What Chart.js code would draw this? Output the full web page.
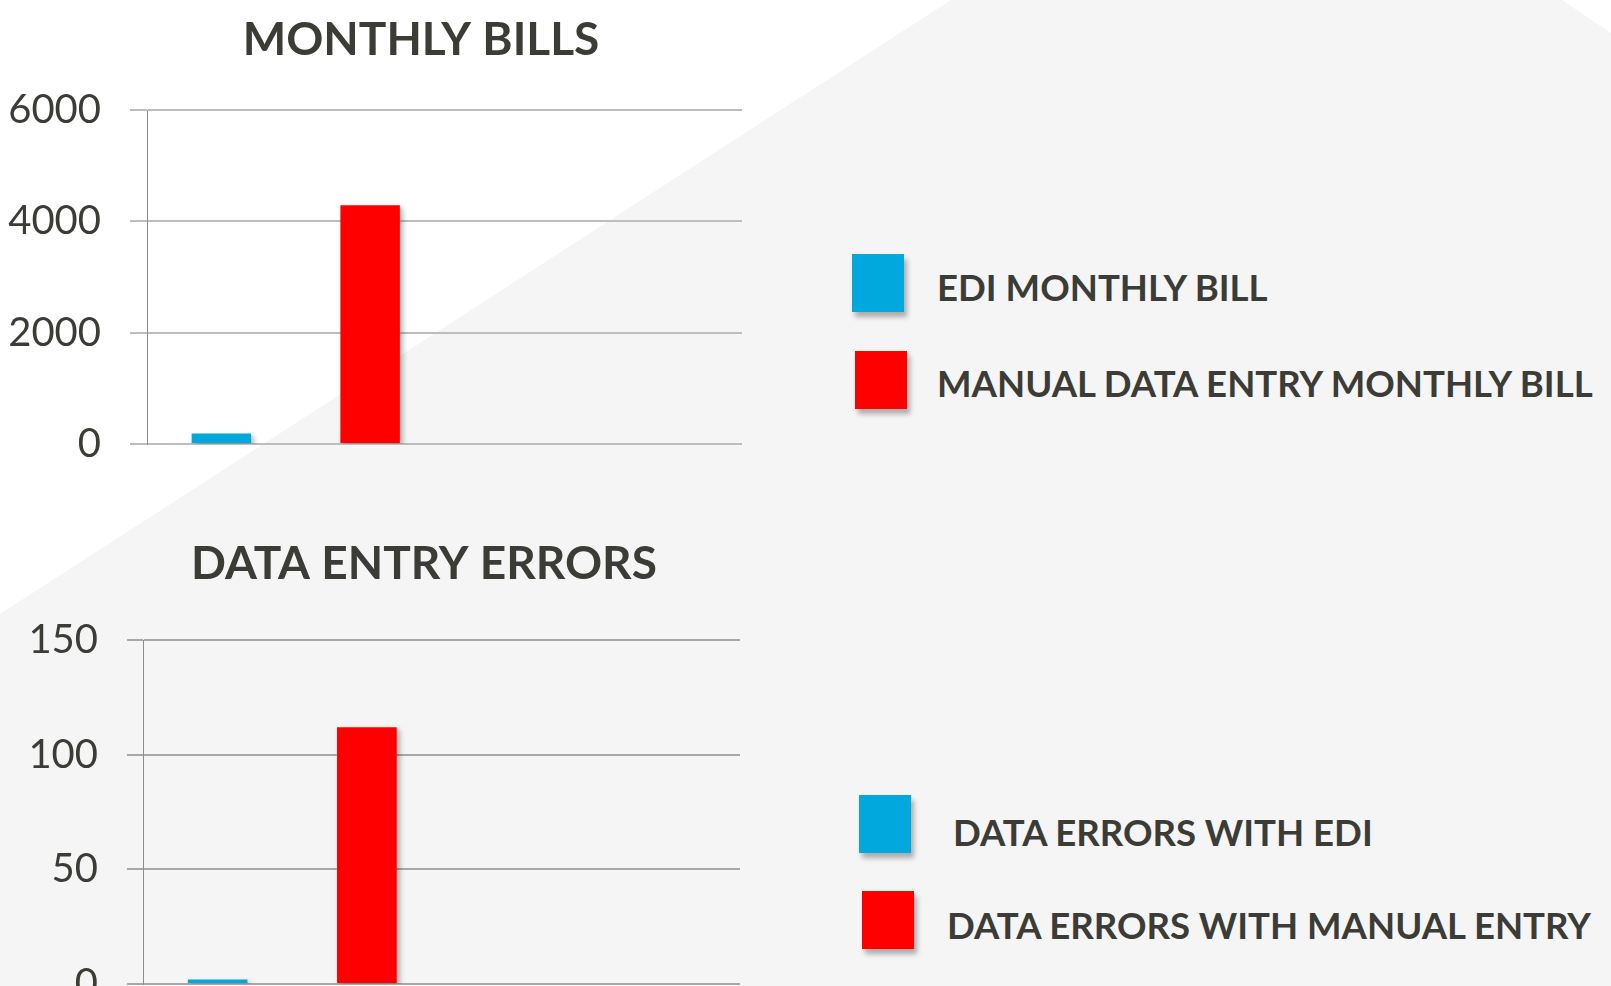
<!DOCTYPE html>
<html>
<head>
<meta charset="utf-8">
<script src="https://cdn.jsdelivr.net/npm/chart.js@4.4.1/dist/chart.umd.min.js"></script>
<style>
  html, body { margin: 0; padding: 0; width: 1611px; height: 986px; overflow: hidden; background: #ffffff; }
  #bg { position: absolute; left: 0; top: 0; width: 1611px; height: 986px; background: #f5f5f5;
        clip-path: polygon(951px 0, 1562px 0, 1611px 33px, 1611px 986px, 0 986px, 0 614px); }
  .wrap { position: absolute; }
  .legend { position: absolute; font-family: Lato, sans-serif; font-weight: bold; font-size: 36.6px; color: #3c3c37; }
  .item { position: absolute; white-space: nowrap; }
  .box { position: absolute; width: 52px; height: 58px; box-shadow: 3px 5px 5px rgba(0,0,0,0.3); }
  .txt { position: absolute; line-height: 1; }
</style>
</head>
<body>
<div id="bg"></div>
<div class="wrap" style="left:0;top:0;width:842px;height:497px"><canvas id="billsChart"></canvas></div>
<div class="wrap" style="left:0;top:500px;width:848px;height:537px"><canvas id="errorsChart"></canvas></div>
<div class="legend" id="billsLegend"></div>
<div class="legend" id="errorsLegend"></div>
<script>
// data
const slots = ["1", "2", "3", "4"];
const billLabels = ["EDI MONTHLY BILL", "MANUAL DATA ENTRY MONTHLY BILL"];
const billValues = [190, 4290];
const billTicks = [0, 2000, 4000, 6000];
const errorLabels = ["DATA ERRORS WITH EDI", "DATA ERRORS WITH MANUAL ENTRY"];
const errorValues = [2, 112];
const errorTicks = [0, 50, 100, 150];
const seriesColors = ["#00a8de", "#ff0000"];

const textColor = "#3c3c37";

const barShadow = {
  id: "barShadow",
  beforeDatasetsDraw(chart) {
    const ctx = chart.ctx;
    ctx.save();
    ctx.shadowColor = "rgba(0,0,0,0.28)";
    ctx.shadowOffsetX = 3;
    ctx.shadowOffsetY = 3;
    ctx.shadowBlur = 5;
  },
  afterDatasetsDraw(chart) {
    chart.ctx.restore();
  },
};

function makeDatasets(labels, values) {
  return labels.map((label, i) => ({
    label: label,
    data: slots.map((s, j) => (j === i ? values[i] : null)),
    backgroundColor: seriesColors[i],
    borderWidth: 0,
    skipNull: true,
    barPercentage: 0.5,
    categoryPercentage: 0.8,
  }));
}

function makeChart(id, title, labels, values, ticks, opt) {
  const ctx = document.getElementById(id).getContext("2d");
  return new Chart(ctx, {
    type: "bar",
    data: {
      labels: slots,
      datasets: makeDatasets(labels, values),
    },
    options: {
      responsive: true,
      maintainAspectRatio: false,
      animation: false,
      layout: {
        padding: 0,
      },
      scales: {
        x: {
          grid: { display: false, drawTicks: false },
          border: { display: false },
          ticks: { display: false },
        },
        y: {
          min: ticks[0],
          max: ticks[ticks.length - 1],
          afterBuildTicks: (scale) => {
            scale.ticks = ticks.map((v) => ({ value: v }));
          },
          afterFit: (scale) => {
            scale.width = opt.axisLeft;
          },
          grid: {
            color: opt.gridColor,
            lineWidth: 2,
            tickLength: opt.tickLength,
          },
          border: { display: true, color: "#8c8c8c", width: 1 },
          ticks: {
            padding: 29,
            color: textColor,
            font: { family: "Lato", size: 40 },
            callback: (v) => String(v),
          },
        },
        // empty space on the right so the title centres like the original
        gap: {
          position: "right",
          grid: { display: false, drawTicks: false },
          border: { display: false },
          ticks: { display: false },
          afterFit: (scale) => {
            scale.width = opt.rightGap;
          },
        },
      },
      plugins: {
        legend: { display: false },
        tooltip: { enabled: false },
        title: {
          display: true,
          text: title,
          color: textColor,
          font: { family: "Lato", size: 46, weight: "bold", lineHeight: 1.2 },
          padding: { top: opt.titleTop, bottom: opt.titleBottom },
        },
      },
    },
    plugins: [barShadow],
  });
}

function buildLegend(chart, id, pos) {
  const el = document.getElementById(id);
  chart.data.datasets.forEach((ds, i) => {
    const p = pos[i];
    const item = document.createElement("div");
    item.className = "item";
    const box = document.createElement("div");
    box.className = "box";
    box.style.left = p.bx + "px";
    box.style.top = p.by + "px";
    box.style.background = ds.backgroundColor;
    const txt = document.createElement("div");
    txt.className = "txt";
    txt.style.left = p.tx + "px";
    txt.style.top = p.ty - 18 + "px";
    txt.textContent = ds.label;
    item.appendChild(box);
    item.appendChild(txt);
    el.appendChild(item);
  });
}

const billsChart = makeChart("billsChart", "MONTHLY BILLS", billLabels, billValues, billTicks, {
  rightGap: 100, axisLeft: 147, tickLength: 17, gridColor: "#bdbdbd", titleTop: 13, titleBottom: 42,
});
const errorsChart = makeChart("errorsChart", "DATA ENTRY ERRORS", errorLabels, errorValues, errorTicks, {
  rightGap: 108, axisLeft: 143, tickLength: 16, gridColor: "#a8a8a8", titleTop: 37, titleBottom: 48,
});

buildLegend(billsChart, "billsLegend", [
  { bx: 852, by: 254, tx: 937, ty: 287 },
  { bx: 855, by: 351, tx: 937, ty: 383 },
]);
buildLegend(errorsChart, "errorsLegend", [
  { bx: 859, by: 795, tx: 953, ty: 832 },
  { bx: 862, by: 891, tx: 947, ty: 925 },
]);
</script>
</body>
</html>
